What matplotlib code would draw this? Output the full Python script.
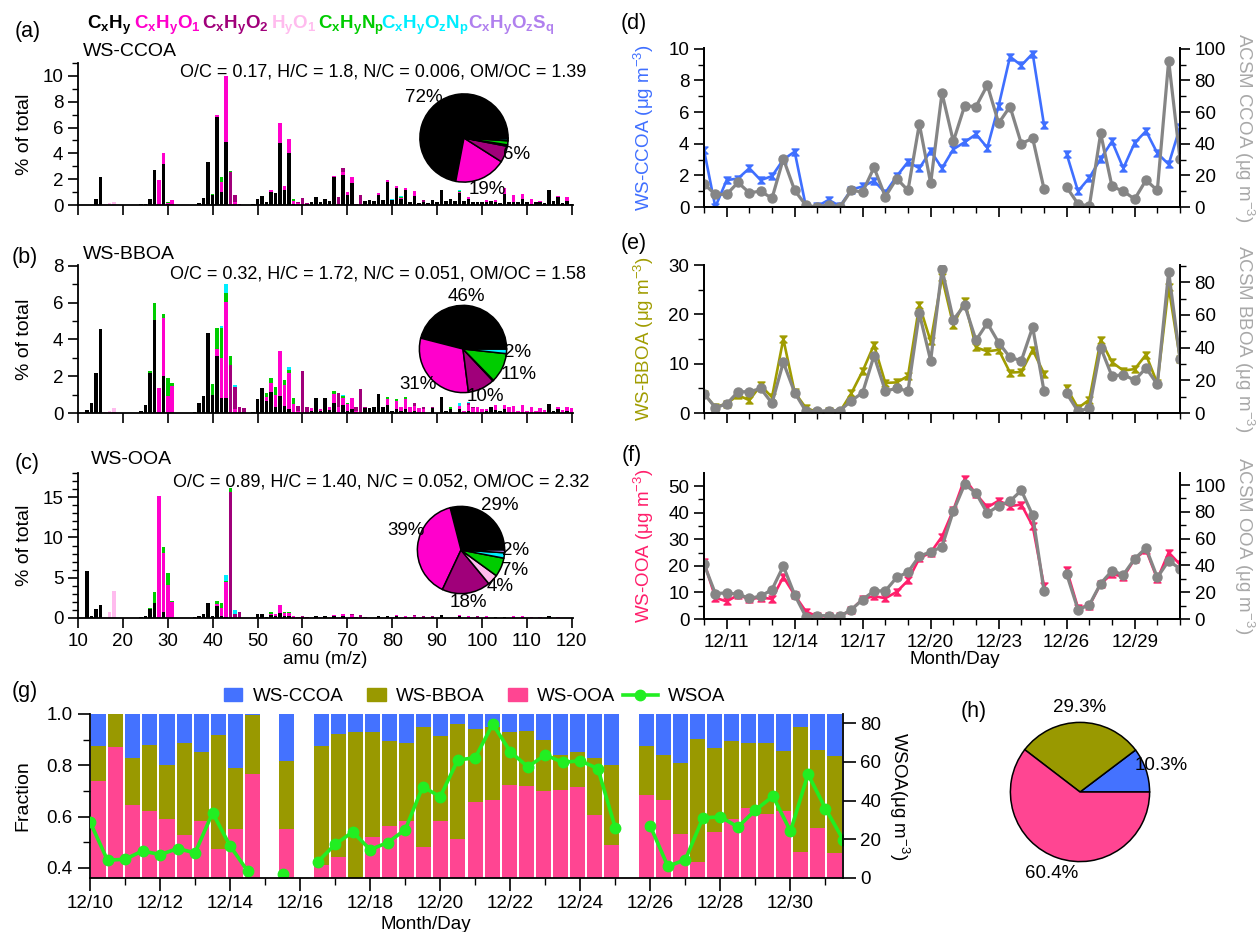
import numpy as np
import matplotlib
matplotlib.use("Agg")
import matplotlib.pyplot as plt
from matplotlib.path import Path
from matplotlib.lines import Line2D
from matplotlib.patches import Patch, Rectangle
from matplotlib.legend_handler import HandlerPatch
from matplotlib.ticker import MultipleLocator, FixedLocator, FixedFormatter, NullFormatter

nan = np.nan

plt.rcParams["font.family"] = ["Liberation Sans", "DejaVu Sans"]
plt.rcParams["mathtext.fontset"] = "custom"
plt.rcParams["mathtext.rm"] = "Liberation Sans"
plt.rcParams["mathtext.it"] = "Liberation Sans:italic"
plt.rcParams["mathtext.bf"] = "Liberation Sans:bold"
plt.rcParams["axes.linewidth"] = 1.3

# ---------------- mass spectra (% of total), m/z -> value per ion family ----------------
a_hc = {14: 0.5, 15: 2.2, 24: 0.05, 25: 0.1, 26: 0.45, 27: 2.75, 29: 3.2, 30: 0.1, 37: 0.15, 38: 0.55,
        39: 3.35, 40: 0.75, 41: 6.8, 42: 1.0, 43: 4.9, 49: 0.05, 50: 0.45, 51: 0.7, 52: 0.2, 53: 1.0,
        54: 0.9, 55: 4.8, 56: 1.2, 57: 4.05, 58: 0.1, 61: 0.1, 62: 0.2, 63: 0.6, 64: 0.2, 65: 0.5,
        66: 0.3, 67: 2.15, 68: 0.1, 69: 2.35, 70: 0.8, 71: 1.7, 74: 0.3, 75: 0.35, 76: 0.3, 77: 0.8,
        78: 0.35, 79: 1.8, 80: 0.4, 81: 1.3, 82: 0.45, 83: 1.15, 84: 0.2, 85: 0.7, 86: 0.15, 87: 0.25,
        88: 0.15, 89: 0.4, 90: 0.2, 91: 1.2, 92: 0.3, 93: 0.45, 94: 0.3, 95: 0.9, 96: 0.3, 97: 0.5,
        98: 0.25, 99: 0.2, 100: 0.2, 101: 0.2, 102: 0.3, 103: 0.25, 104: 0.15, 105: 0.85, 106: 0.2,
        107: 0.2, 108: 0.2, 109: 0.5, 110: 0.2, 111: 0.1, 112: 0.2, 113: 0.25, 114: 0.15, 115: 1.15,
        116: 0.3, 117: 0.65, 118: 0.15, 119: 0.3, 120: 0.1}
a_o1 = {28: 1.9, 29: 0.8, 30: 0.05, 31: 0.4, 41: 0.15, 42: 0.8, 43: 5.1, 44: 0.1, 45: 0.2, 53: 0.15,
        55: 1.55, 56: 0.3, 57: 1.05, 58: 0.2, 59: 0.15, 67: 0.1, 69: 0.2, 70: 0.2, 71: 0.5, 73: 0.05,
        77: 0.1, 79: 0.1, 81: 0.2, 82: 0.1, 83: 0.2, 85: 0.35, 95: 0.1, 97: 0.1, 101: 0.15, 103: 0.1,
        105: 0.45, 107: 0.55, 109: 0.35, 111: 0.35, 113: 0.05, 117: 0.05, 119: 0.3}
a_o2 = {44: 2.45, 45: 0.6, 46: 0.05, 59: 0.05, 60: 0.55, 61: 0.05, 68: 0.55, 69: 0.3, 72: 0.1, 73: 0.7, 87: 0.1}
a_h2o = {16: 0.05, 17: 0.12, 18: 0.25}
a_n = {30: 0.1, 40: 0.1, 42: 0.4, 44: 0.05, 58: 0.15, 82: 0.05, 95: 0.05}
a_on = {44: 0.05, 80: 0.05, 82: 0.1, 95: 0.1}
a_s = {64: 0.03, 80: 0.03}

b_hc = {12: 0.15, 13: 0.55, 14: 2.15, 15: 4.55, 24: 0.1, 25: 0.45, 26: 2.2, 27: 5.05, 29: 2.0, 36: 0.05,
        37: 0.55, 38: 0.9, 39: 4.35, 40: 1.0, 41: 3.1, 42: 0.8, 43: 0.8, 49: 0.05, 50: 0.75, 51: 1.35,
        52: 0.65, 53: 1.15, 54: 0.35, 55: 0.95, 56: 0.4, 57: 0.2, 62: 0.1, 63: 0.8, 64: 0.1, 65: 0.8,
        66: 0.15, 67: 0.55, 69: 0.45, 70: 0.1, 71: 0.2, 74: 0.25, 75: 0.25, 76: 0.3, 77: 1.05, 78: 0.35,
        79: 0.45, 80: 0.1, 81: 0.2, 82: 0.1, 83: 0.2, 85: 0.1, 89: 0.25, 91: 0.85, 92: 0.1, 93: 0.2,
        95: 0.2, 97: 0.1, 101: 0.1, 102: 0.3, 103: 0.15, 104: 0.1, 105: 0.2, 115: 0.5, 116: 0.1,
        117: 0.2, 119: 0.1}
b_o1 = {28: 1.35, 29: 3.15, 30: 0.9, 31: 1.45, 41: 0.4, 42: 2.2, 43: 5.25, 45: 0.2, 52: 0.2, 53: 0.5,
        54: 0.65, 55: 2.4, 56: 1.1, 57: 2.0, 58: 0.5, 59: 0.1, 62: 0.15, 64: 0.1, 66: 0.2, 67: 0.5,
        68: 0.3, 69: 0.35, 70: 0.4, 71: 0.6, 72: 0.1, 79: 0.3, 81: 0.45, 82: 0.25, 83: 0.55, 84: 0.3,
        85: 0.3, 86: 0.25, 87: 0.2, 95: 0.2, 96: 0.1, 97: 0.35, 98: 0.25, 99: 0.3, 100: 0.2, 101: 0.1,
        103: 0.3, 105: 0.25, 106: 0.3, 107: 0.4, 108: 0.1, 109: 0.45, 110: 0.1, 111: 0.35, 112: 0.1,
        113: 0.25, 114: 0.15, 117: 0.1, 118: 0.15, 119: 0.25, 120: 0.25}
b_o2 = {44: 2.6, 45: 1.2, 46: 0.3, 47: 0.25, 59: 0.3, 60: 2.3, 61: 0.35, 68: 0.8, 72: 0.2, 73: 1.3,
        74: 0.1, 85: 0.15, 87: 0.15, 89: 0.1, 97: 0.1, 98: 0.1}
b_h2o = {16: 0.05, 17: 0.1, 18: 0.25}
b_n = {26: 0.1, 27: 0.95, 29: 0.25, 30: 1.0, 31: 0.2, 40: 0.6, 41: 1.1, 42: 1.6, 43: 0.45, 44: 0.5,
       52: 0.25, 53: 0.25, 54: 0.4, 56: 0.3, 57: 0.15, 58: 0.3, 67: 0.15, 69: 0.1, 70: 0.05, 79: 0.1,
       81: 0.1, 83: 0.1, 93: 0.1}
b_on = {42: 0.15, 43: 0.5, 45: 0.1, 57: 0.15, 69: 0.1, 84: 0.05, 95: 0.15, 97: 0.05}
b_s = {64: 0.03, 80: 0.03}

c_hc = {12: 5.85, 13: 0.25, 14: 1.1, 15: 1.6, 24: 0.1, 25: 0.2, 26: 1.1, 27: 1.9, 29: 0.75, 36: 0.1,
        37: 0.3, 38: 0.45, 39: 1.85, 40: 0.25, 41: 1.45, 42: 0.3, 43: 0.1, 50: 0.55, 51: 0.55, 52: 0.1,
        53: 0.35, 54: 0.3, 55: 0.6, 56: 0.2, 57: 0.2, 63: 0.2, 65: 0.25, 67: 0.2, 69: 0.2, 77: 0.25,
        79: 0.3, 81: 0.2, 89: 0.15, 91: 0.4, 95: 0.2, 103: 0.15, 105: 0.15, 115: 0.2}
c_o1 = {28: 15.2, 29: 7.35, 30: 4.1, 31: 1.95, 41: 0.3, 42: 1.0, 43: 4.4, 45: 0.1, 53: 0.15, 54: 0.2,
        55: 1.05, 56: 0.4, 57: 0.45, 58: 0.2, 59: 0.15, 67: 0.2, 69: 0.3, 71: 0.35, 73: 0.1, 81: 0.15,
        83: 0.2, 85: 0.3, 87: 0.1, 95: 0.15, 97: 0.2, 99: 0.15, 101: 0.2, 107: 0.2, 109: 0.2, 111: 0.15,
        113: 0.15, 117: 0.1}
c_o2 = {44: 15.6, 45: 0.45, 46: 0.7, 60: 0.3, 61: 0.1, 71: 0.1, 72: 0.15, 73: 0.3, 74: 0.1, 75: 0.05,
        85: 0.1, 87: 0.15, 89: 0.1, 97: 0.1, 99: 0.1, 101: 0.1}
c_h2o = {16: 0.1, 17: 0.8, 18: 3.4}
c_n = {26: 0.2, 27: 1.3, 29: 0.7, 30: 1.5, 31: 0.1, 41: 0.3, 42: 0.6, 43: 0.05, 44: 0.5, 53: 0.2,
       54: 0.05, 56: 0.1, 57: 0.05, 58: 0.1}
c_on = {43: 0.8, 45: 0.4, 46: 0.1, 57: 0.05, 70: 0.05, 96: 0.05}
c_s = {48: 0.05, 64: 0.1, 80: 0.1, 81: 0.05, 98: 0.05}

# family fractions of each factor (pie charts, %)
a_pie = [72, 19, 6, 0.5, 1.5, 0.7, 0.3]
b_pie = [46, 31, 10, 0.3, 11, 1.7, 0.0]
c_pie = [29, 39, 18, 4, 7, 2, 1]

# ---------------- time series, every 12 h from 12/10 00:00 ----------------
ccoa_ws = [3.6, 0.0, 1.7, 1.8, 2.45, 1.7, 1.95, 3.0, 3.5, 0.0, 0.05, 0.45, 0.05, 1.1, 1.3, 1.65, 0.9,
           1.95, 2.85, 2.45, 3.55, 2.45, 3.65, 4.1, 4.6, 3.75, 6.4, 9.5, 8.95, 9.7, 5.2, nan, 3.35,
           1.0, 1.85, 3.05, 4.15, 2.45, 4.05, 4.8, 3.4, 2.7, 5.05]
ccoa_acsm = [14.5, 8, 8, 15.5, 9, 10, 5.5, 30.5, 10.5, 1, 0, 1.5, 0, 10.5, 9.5, 25, 6.5, 18, 10.5,
             52.5, 15, 72, 41.5, 64, 63.5, 77, 53, 63.5, 40, 43.5, 11.5, nan, 12.5, 2, 0.5, 46.5, 13,
             10, 5, 17, 10.5, 92.5, 30.5]
bboa_ws = [3.9, 1.2, 1.9, 3.6, 2.6, 5.6, 3.2, 15.0, 4.2, 1.0, 0.2, 0.4, 0.3, 4.0, 8.5, 13.8, 6.1, 6.2,
           7.5, 21.9, 14.5, 27.5, 17.8, 22.7, 13.3, 12.5, 12.8, 8.2, 8.3, 12.8, 8.0, nan, 5.1, 1.0,
           2.7, 14.8, 10.3, 8.6, 8.9, 11.8, 6.0, 25.5, 11.0]
bboa_acsm = [11.9, 3.3, 5.5, 13, 13, 15, 6, 31, 12.5, 1, 1, 1.5, 1.5, 7.5, 12.5, 35, 13.5, 15, 13.5,
             61, 32, 88, 57, 66, 44.5, 55, 43, 34, 32, 52.5, 13.5, nan, 12, 1, 3, 40, 22.5, 23.5, 20,
             27.5, 17.5, 86.5, 33]
ooa_ws = [21.5, 8.0, 6.6, 9.0, 7.5, 8.0, 7.6, 15.8, 9.0, 2.8, 1.0, 1.0, 1.0, 3.5, 7.5, 8.6, 7.8, 10.2,
          14.5, 22.8, 25.0, 31.0, 41.0, 52.8, 47.0, 42.0, 44.5, 42.5, 43.0, 35.0, 12.5, nan, 18.5,
          4.2, 5.0, 13.2, 17.0, 15.8, 22.5, 26.0, 15.0, 25.0, 20.5]
ooa_acsm = [41, 19, 19.5, 18.5, 15.5, 17, 22, 39.5, 18, 1.5, 2.5, 2.5, 2, 7, 14.5, 21, 21, 31, 35, 47,
            50, 54, 80.5, 100.5, 94, 79, 84.5, 88, 96, 77.5, 21, nan, 33.5, 7, 10.5, 26.5, 36, 33, 45,
            53, 31, 43.5, 37.5]

# ---------------- panel (g): fractions per sample, WSOA mass ----------------
frac_ooa = [0.74, 0.873, 0.646, 0.623, 0.59, 0.528, 0.584, 0.474, 0.55, 0.766, nan, 0.55, nan, 0.412,
            0.443, 0.30, 0.52, 0.562, 0.584, 0.482, 0.584, 0.513, 0.657, 0.664, 0.724, 0.72, 0.698,
            0.705, 0.715, 0.605, 0.49, nan, 0.683, 0.664, 0.53, 0.424, 0.539, 0.589, 0.632, 0.61,
            0.621, 0.462, 0.556, 0.459]
frac_bboa = [0.136, 0.127, 0.184, 0.255, 0.21, 0.359, 0.267, 0.444, 0.239, 0.229, nan, 0.268, nan,
             0.465, 0.479, 0.629, 0.411, 0.332, 0.302, 0.466, 0.332, 0.447, 0.285, 0.286, 0.205,
             0.214, 0.2, 0.135, 0.137, 0.224, 0.31, nan, 0.192, 0.176, 0.278, 0.477, 0.327, 0.307,
             0.253, 0.275, 0.236, 0.486, 0.303, 0.379]
frac_ccoa = [0.124, 0.0, 0.17, 0.122, 0.2, 0.113, 0.149, 0.082, 0.211, 0.005, nan, 0.182, nan, 0.123,
             0.078, 0.071, 0.069, 0.106, 0.114, 0.052, 0.084, 0.04, 0.058, 0.05, 0.071, 0.066, 0.102,
             0.16, 0.148, 0.171, 0.2, nan, 0.125, 0.16, 0.192, 0.099, 0.134, 0.104, 0.115, 0.115,
             0.143, 0.052, 0.141, 0.162]
wsoa = [29.0, 9.2, 9.7, 14.0, 12.1, 15.2, 13.0, 33.7, 16.6, 3.6, nan, 2.2, nan, 8.3, 17.4, 23.8, 14.7,
        18.3, 25.0, 47.2, 42.0, 61.0, 62.2, 79.6, 65.3, 57.5, 63.6, 59.8, 60.6, 56.6, 25.9, nan, 26.8,
        6.0, 9.5, 31.1, 31.6, 26.4, 35.1, 42.3, 24.2, 53.7, 35.9, 19.9]

h_pie = [10.3, 29.3, 60.4]

# ---------------- drawing ----------------
W, H = 1257, 932
fig = plt.figure(figsize=(W / 100, H / 100), dpi=100)


def rect(l, t, r, b):
    return [l / W, 1 - b / H, (r - l) / W, (b - t) / H]


def ftext(x, y, s, **kw):
    fig.text(x / W, 1 - y / H, s, **kw)


FS = 13.5
fam_colors = ["#000000", "#ff00cc", "#a0007a", "#ffbbee", "#00cc00", "#00eeff", "#b080ee"]
mz = np.arange(12, 121)


def ms_panel(box, fams, ymax, ymaj, ymin, show_x):
    ax = fig.add_axes(rect(*box))
    bottom = np.zeros(len(mz))
    for d, c in zip(fams, fam_colors):
        v = np.array([d.get(m, 0.0) for m in mz])
        ax.bar(mz, v, bottom=bottom, width=0.78, color=c, linewidth=0)
        bottom += v
    ax.set_xlim(10, 120.3)
    ax.set_ylim(0, ymax)
    ax.spines["top"].set_visible(False)
    ax.spines["right"].set_visible(False)
    ax.xaxis.set_major_locator(MultipleLocator(10))
    ax.yaxis.set_major_locator(MultipleLocator(ymaj))
    ax.yaxis.set_minor_locator(MultipleLocator(ymin))
    ax.tick_params(which="major", direction="out", length=7, width=1.2, labelsize=FS)
    ax.tick_params(which="minor", direction="out", length=4, width=1.0)
    if not show_x:
        ax.xaxis.set_major_formatter(NullFormatter())
    ax.set_ylabel("% of total", fontsize=FS + 0.5)
    ax.yaxis.set_label_coords(-0.091, 0.5)
    return ax


def inset_pie(cx, cy, r, fracs, colors, labels, fs=FS):
    pax = fig.add_axes(rect(cx - r, cy - r, cx + r, cy + r))
    pax.pie(fracs, colors=colors, startangle=0, counterclock=True, radius=1.0,
            wedgeprops=dict(edgecolor="black", linewidth=1.1))
    pax.set_xlim(-1.02, 1.02)
    pax.set_ylim(-1.02, 1.02)
    pax.set_aspect("equal")
    for txt, x, y in labels:
        pax.text(x, y, txt, ha="center", va="center", fontsize=fs)
    return pax


ax_a = ms_panel((78, 63, 573, 205), [a_hc, a_o1, a_o2, a_h2o, a_n, a_on, a_s], 11.0, 2, 1, False)
ax_b = ms_panel((78, 265, 573, 413), [b_hc, b_o1, b_o2, b_h2o, b_n, b_on, b_s], 8.05, 2, 1, False)
ax_c = ms_panel((78, 473, 573, 618), [c_hc, c_o1, c_o2, c_h2o, c_n, c_on, c_s], 18.0, 5, 1, True)
ax_c.set_xlabel("amu (m/z)", fontsize=FS)
ax_c.xaxis.set_label_coords(0.5, -0.225)

inset_pie(464, 138, 45, a_pie, fam_colors,
          [("72%", -0.91, 0.91), ("6%", 1.2, -0.38), ("19%", 0.53, -1.16)])
inset_pie(463, 349, 44.5, b_pie, fam_colors,
          [("46%", 0.07, 1.21), ("2%", 1.24, -0.07), ("11%", 1.28, -0.58), ("10%", 0.52, -1.1),
           ("31%", -1.03, -0.81)])
inset_pie(461, 550, 44.5, c_pie, fam_colors,
          [("29%", 0.88, 1.01), ("39%", -1.26, 0.45), ("2%", 1.26, -0.02), ("7%", 1.23, -0.47),
           ("4%", 0.9, -0.84), ("18%", 0.16, -1.2)])

# family legend along the top
fam_labels = [r"$\mathbf{C_xH_y}$", r"$\mathbf{C_xH_yO_1}$", r"$\mathbf{C_xH_yO_2}$", r"$\mathbf{H_yO_1}$",
              r"$\mathbf{C_xH_yN_p}$", r"$\mathbf{C_xH_yO_zN_p}$", r"$\mathbf{C_xH_yO_zS_q}$"]
fam_x = [87, 134, 202, 271, 318, 381, 468]
for s, x, c in zip(fam_labels, fam_x, fam_colors):
    ftext(x, 29, s, ha="left", va="baseline", fontsize=FS, color=c)

ftext(28, 32, "(a)", ha="center", va="center", fontsize=15.5)
ftext(83, 52, "WS-CCOA", ha="left", va="center", fontsize=14)
ftext(383, 72, "O/C = 0.17, H/C = 1.8, N/C = 0.006, OM/OC = 1.39", ha="center", va="center", fontsize=13)
ftext(25, 257, "(b)", ha="center", va="center", fontsize=15.5)
ftext(83, 255, "WS-BBOA", ha="left", va="center", fontsize=14)
ftext(378, 274, "O/C = 0.32, H/C = 1.72, N/C = 0.051, OM/OC = 1.58", ha="center", va="center", fontsize=13)
ftext(27, 463, "(c)", ha="center", va="center", fontsize=15.5)
ftext(91, 460, "WS-OOA", ha="left", va="center", fontsize=14)
ftext(381, 482, "O/C = 0.89, H/C = 1.40, N/C = 0.052, OM/OC = 2.32", ha="center", va="center", fontsize=13)

# ---------------- (d)-(f) ----------------
days = 10 + 0.5 * np.arange(len(ccoa_ws))
date_ticks = [11, 14, 17, 20, 23, 26, 29]
hourglass = Path([(-1, 1), (1, 1), (-1, -1), (1, -1), (-1, 1)],
                 [Path.MOVETO, Path.LINETO, Path.LINETO, Path.LINETO, Path.CLOSEPOLY])
GRAY = "#858585"


def ts_panel(box, ws, acsm, color, lylim, rylim, lmaj, lmin, rmaj, rmin, lname, rname, show_x):
    ax = fig.add_axes(rect(*box))
    axr = ax.twinx()
    ax.plot(days, ws, color=color, lw=1.9, marker=hourglass, ms=5, mec=color, mfc=color)
    axr.plot(days, acsm, color=GRAY, lw=2.3, marker="o", ms=6.5, mec=GRAY, mfc=GRAY)
    ax.set_xlim(10, 31)
    ax.set_ylim(*lylim)
    axr.set_ylim(*rylim)
    ax.spines["top"].set_visible(False)
    axr.spines["top"].set_visible(False)
    ax.xaxis.set_major_locator(FixedLocator(date_ticks))
    ax.xaxis.set_minor_locator(MultipleLocator(1))
    if show_x:
        ax.xaxis.set_major_formatter(FixedFormatter(["12/%d" % d for d in date_ticks]))
    else:
        ax.xaxis.set_major_formatter(NullFormatter())
    ax.yaxis.set_major_locator(MultipleLocator(lmaj))
    ax.yaxis.set_minor_locator(MultipleLocator(lmin))
    axr.yaxis.set_major_locator(MultipleLocator(rmaj))
    axr.yaxis.set_minor_locator(MultipleLocator(rmin))
    for a in (ax, axr):
        a.tick_params(which="major", direction="out", length=7, width=1.2, labelsize=FS)
        a.tick_params(which="minor", direction="out", length=4, width=1.0)
    ax.set_ylabel(lname, color=color, fontsize=FS)
    ax.yaxis.set_label_coords(-0.1, 0.5)
    axr.set_ylabel(rname, color="#a8a8a8", fontsize=FS, rotation=270, va="center")
    axr.yaxis.set_label_coords(1.134, 0.5)
    return ax, axr


unit = " (μg m$^{-3}$)"
ts_panel((704, 48, 1180, 207), ccoa_ws, ccoa_acsm, "#3f6fff", (0, 10.05), (0, 100.5), 2, 1, 20, 10,
         "WS-CCOA" + unit, "ACSM CCOA" + unit, False)
ts_panel((704, 265, 1180, 413), bboa_ws, bboa_acsm, "#a09c00", (0, 30), (0, 90.5), 10, 5, 20, 10,
         "WS-BBOA" + unit, "ACSM BBOA" + unit, False)
ax_f, _ = ts_panel((704, 473, 1180, 619), ooa_ws, ooa_acsm, "#ff1f6b", (0, 54.9), (0, 109), 10, 5, 20, 10,
                   "WS-OOA" + unit, "ACSM OOA" + unit, True)
ax_f.set_xlabel("Month/Day", fontsize=FS)
ax_f.xaxis.set_label_coords(0.527, -0.22)

ftext(634, 23, "(d)", ha="center", va="center", fontsize=15.5)
ftext(634, 243, "(e)", ha="center", va="center", fontsize=15.5)
ftext(632, 455, "(f)", ha="center", va="center", fontsize=15.5)

# ---------------- (g) ----------------
C_BLUE, C_OLIVE, C_PINK, C_LIME = "#4472ff", "#999900", "#ff4592", "#22ee22"
g_box = (90, 714, 843, 878)
axg = fig.add_axes(rect(*g_box))
cats = np.arange(len(frac_ooa)) + 0.5
f_o = np.array(frac_ooa)
f_b = np.array(frac_bboa)
f_c = np.array(frac_ccoa)
axg.bar(cats, f_o, width=0.88, color=C_PINK, linewidth=0)
axg.bar(cats, f_b, bottom=f_o, width=0.88, color=C_OLIVE, linewidth=0)
axg.bar(cats, f_c, bottom=f_o + f_b, width=0.88, color=C_BLUE, linewidth=0)
axg.set_xlim(0, len(frac_ooa))
axg.set_ylim(0.36, 1.0)
for s in ("top", "right", "bottom"):
    axg.spines[s].set_visible(False)
axg.set_xticks([])
axg.yaxis.set_major_locator(MultipleLocator(0.2))
axg.yaxis.set_minor_locator(MultipleLocator(0.1))
axg.tick_params(which="major", direction="out", length=9, width=1.2, labelsize=FS)
axg.tick_params(which="minor", direction="out", length=5, width=1.0)
axg.set_ylabel("Fraction", fontsize=FS + 0.5)
axg.yaxis.set_label_coords(-0.078, 0.5)

axw = fig.add_axes(rect(*g_box), facecolor="none")
wdays = 10 + 0.5 * np.arange(len(wsoa))
axw.plot(wdays, wsoa, color=C_LIME, lw=2.6, marker="o", ms=7.5)
axw.set_xlim(10, 31.5)
axw.set_ylim(0, 84.8)
axw.spines["top"].set_visible(False)
axw.spines["left"].set_visible(False)
axw.yaxis.tick_right()
axw.yaxis.set_label_position("right")
g_ticks = list(range(10, 31, 2))
axw.xaxis.set_major_locator(FixedLocator(g_ticks))
axw.xaxis.set_major_formatter(FixedFormatter(["12/%d" % d for d in g_ticks]))
axw.xaxis.set_minor_locator(MultipleLocator(1))
axw.yaxis.set_major_locator(MultipleLocator(20))
axw.tick_params(which="major", direction="out", length=9, width=1.2, labelsize=FS)
axw.tick_params(which="minor", direction="out", length=5, width=1.0)
axw.set_ylabel("WSOA(μg m$^{-3}$)", fontsize=FS, rotation=270, va="center")
axw.yaxis.set_label_coords(1.075, 0.5)
axw.set_xlabel("Month/Day", fontsize=FS)
axw.xaxis.set_label_coords(0.446, -0.232)


def small_patch(legend, orig_handle, xdescent, ydescent, width, height, fontsize):
    # square-ish swatch drawn at the right end of the handle box
    return Rectangle((width - 1.0 * fontsize - xdescent, -ydescent), 1.0 * fontsize, height)


handles = [Patch(color=C_BLUE, label="WS-CCOA"), Patch(color=C_OLIVE, label="WS-BBOA"),
           Patch(color=C_PINK, label="WS-OOA"),
           Line2D([], [], color=C_LIME, lw=2.6, marker="o", ms=7.5, label="WSOA")]
axw.legend(handles=handles, loc="lower center", bbox_to_anchor=(0.5, 0.995), ncol=4, frameon=False,
           fontsize=FS, handlelength=1.85, handleheight=0.7, columnspacing=0.4, handletextpad=0.55,
           borderaxespad=0.1, handler_map={Patch: HandlerPatch(patch_func=small_patch)})
ftext(25, 692, "(g)", ha="center", va="center", fontsize=15.5)

# ---------------- (h) ----------------
inset_pie(1080, 792, 71, h_pie, [C_BLUE, C_OLIVE, C_PINK],
          [("29.3%", 0.0, 1.22), ("10.3%", 1.17, 0.38), ("60.4%", -0.41, -1.17)])
ftext(974, 712, "(h)", ha="center", va="center", fontsize=15.5)

fig.savefig("out.png", dpi=100)
